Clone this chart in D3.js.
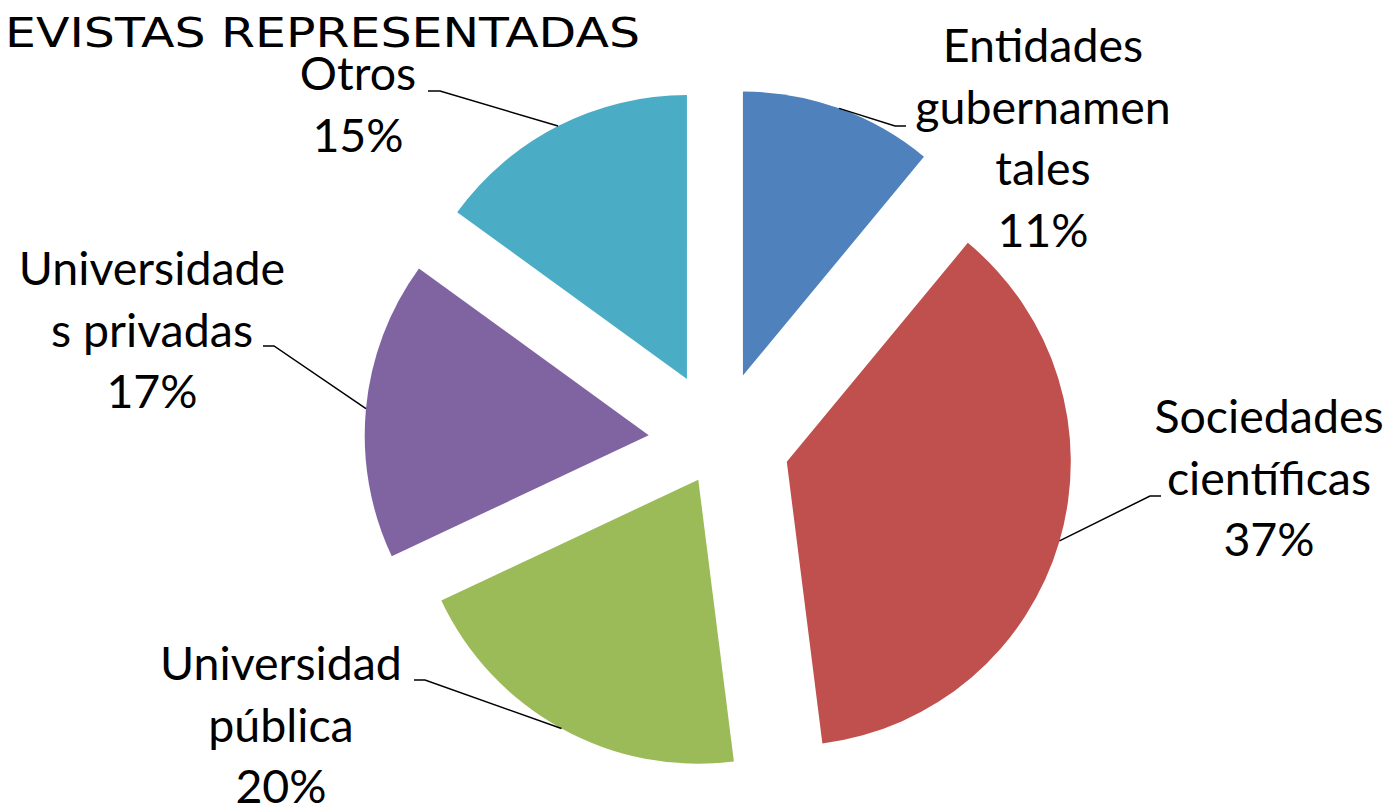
<!DOCTYPE html>
<html>
<head>
<meta charset="utf-8">
<script src="https://cdn.jsdelivr.net/npm/d3@7"></script>
<style>
  body { margin: 0; background: #fff; }
  svg { display: block; }
</style>
</head>
<body>
<div id="chart"></div>
<script>
// datos del grafico
const categories = ['Entidades gubernamentales', 'Sociedades científicas', 'Universidad pública', 'Universidades privadas', 'Otros'];
const values = [11, 37, 20, 17, 15];
const labelLines = [['Entidades', 'gubernamen', 'tales'], ['Sociedades', 'científicas'], ['Universidad', 'pública'], ['Universidade', 's privadas'], ['Otros']];
const titleText = 'EVISTAS REPRESENTADAS';

const colors = ['#4F81BD', '#C0504D', '#9BBB59', '#8064A2', '#4BACC6'];

const width = 1391;
const height = 807;
const cx = 719, cy = 442, radius = 284;
const lineH = 61.7;

// separacion de cada porcion (px)
const explode = {'Universidad pública': 43};
const explodeDefault = 70.6;

// posicion de las etiquetas: centro x, primera linea y, codo y final de la linea guia
const labelLayout = {
  'Entidades gubernamentales': {x: 1043, y: 62, elbow: [895, 126], end: [906, 126]},
  'Sociedades científicas': {x: 1269, y: 433, elbow: [1150, 496], end: [1161, 496]},
  'Universidad pública': {x: 281, y: 680, elbow: [425, 680], end: [414, 680]},
  'Universidades privadas': {x: 152, y: 285, elbow: [274, 346], end: [263, 346]},
  'Otros': {x: 358, y: 90, elbow: [440, 91], end: [428, 91]}
};

const data = categories.map((c, i) => ({name: c, value: values[i], lines: labelLines[i], color: colors[i]}));
const total = d3.sum(values);

const svg = d3.select('#chart')
    .append('svg')
    .attr('width', width)
    .attr('height', height);

// titulo (cortado a la izquierda)
svg.append('text')
    .attr('x', 5)
    .attr('y', 47)
    .attr('font-family', 'DejaVu Sans, sans-serif')
    .attr('font-size', 40)
    .attr('textLength', 635)
    .attr('lengthAdjust', 'spacingAndGlyphs')
    .attr('fill', '#000')
    .text(titleText);

const pie = d3.pie()
    .sort(null)
    .value(d => d.value);

const arc = d3.arc()
    .innerRadius(0)
    .outerRadius(radius);

const arcs = pie(data);

function offsetOf(d) {
  const mid = (d.startAngle + d.endAngle) / 2;
  const e = explode[d.data.name] ?? explodeDefault;
  return [Math.sin(mid) * e, -Math.cos(mid) * e];
}

const g = svg.append('g')
    .attr('transform', `translate(${cx},${cy})`);

g.selectAll('path.slice')
    .data(arcs)
    .enter()
    .append('path')
    .attr('class', 'slice')
    .attr('d', arc)
    .attr('fill', d => d.data.color)
    .attr('transform', d => `translate(${offsetOf(d)[0]},${offsetOf(d)[1]})`);

// lineas guia
svg.selectAll('polyline.leader')
    .data(arcs)
    .enter()
    .append('polyline')
    .attr('class', 'leader')
    .attr('fill', 'none')
    .attr('stroke', '#000')
    .attr('stroke-width', 1.5)
    .attr('points', d => {
      const mid = (d.startAngle + d.endAngle) / 2;
      const o = offsetOf(d);
      const px = cx + o[0] + Math.sin(mid) * radius;
      const py = cy + o[1] - Math.cos(mid) * radius;
      const L = labelLayout[d.data.name];
      return [[px, py], L.elbow, L.end].map(p => p.join(',')).join(' ');
    });

// etiquetas
const labels = svg.selectAll('text.label')
    .data(arcs)
    .enter()
    .append('text')
    .attr('class', 'label')
    .attr('font-family', '"Gill Sans MT", "Gill Sans", Lato, sans-serif')
    .attr('font-size', 46.5)
    .attr('fill', '#000')
    .attr('text-anchor', 'middle');

labels.each(function(d) {
  const L = labelLayout[d.data.name];
  const lines = d.data.lines.concat([Math.round(d.data.value / total * 100) + '%']);
  d3.select(this).selectAll('tspan')
      .data(lines)
      .enter()
      .append('tspan')
      .attr('x', L.x)
      .attr('y', (t, i) => L.y + i * lineH)
      .text(t => t);
});
</script>
</body>
</html>
